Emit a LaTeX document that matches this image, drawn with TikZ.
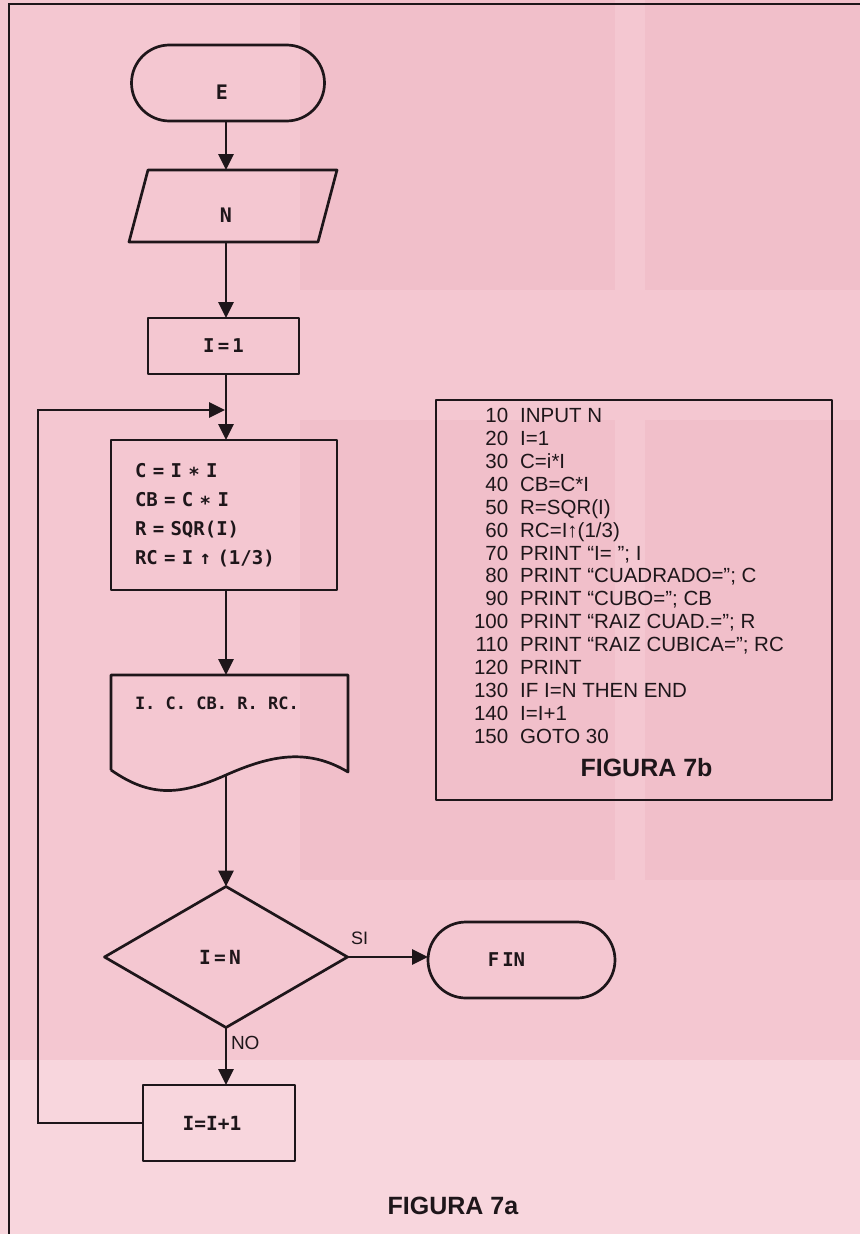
\documentclass[tikz,border=0pt]{standalone}
\usepackage{fontspec}
\setmainfont{Liberation Sans}
\newfontfamily\letterfont{DejaVu Sans Mono Bold}
\usetikzlibrary{arrows.meta,shapes.geometric,shapes.misc,calc}
\definecolor{paper}{RGB}{244,199,209}
\definecolor{paperdark}{RGB}{241,191,202}
\definecolor{paperlight}{RGB}{248,214,221}
\definecolor{ink}{RGB}{30,22,26}
\begin{document}
\begin{tikzpicture}[x=1pt,y=-1pt,
  every node/.style={inner sep=0pt,outer sep=0pt,text=ink},
  shapeline/.style={draw=ink,line width=2.7pt,line join=round},
  termbox/.style={shapeline,rounded rectangle,minimum width=193pt,minimum height=76pt,font=\letterfont\fontsize{20}{22}\selectfont},
  procbox/.style={shapeline,rectangle,font=\letterfont\fontsize{19}{21}\selectfont},
  decbox/.style={shapeline,diamond,minimum width=243pt,minimum height=141pt,font=\letterfont\fontsize{19.5}{21}\selectfont},
  plainbox/.style={rectangle,font=\letterfont\fontsize{20}{22}\selectfont},
  conn/.style={draw=ink,line width=2.7pt,-{Triangle[length=16pt,width=15pt]}},
  flowlabel/.style={font=\fontsize{18}{20}\selectfont,anchor=west},
  figtitle/.style={font=\bfseries\fontsize{25}{28}\selectfont},
]
\useasboundingbox (0,0) rectangle (860,1234);
% paper
\fill[paper] (0,0) rectangle (860,1234);
\fill[paperdark] (300,0) rectangle (615,290);
\fill[paperdark] (645,0) rectangle (860,290);
\fill[paperdark] (300,420) rectangle (615,880);
\fill[paperdark] (645,420) rectangle (860,880);
\fill[paperlight] (0,1060) rectangle (860,1234);
% frame
\draw[ink,line width=2.7pt] (9,1234) -- (9,4) -- (860,4);

% ---------- flowchart nodes ----------
\coordinate (spine) at (226,0);
\node[termbox,text height=32pt,text depth=0pt] (start) at (228,83) {E\kern12pt};
\node[plainbox,minimum width=170pt,minimum height=72pt,text height=32pt,text depth=0pt] (inp) at (226,206) {N};
\draw[shapeline] ($(inp.north)+(-78,0)$) -- ($(inp.north)+(111,0)$) -- ($(inp.south)+(92,0)$) -- ($(inp.south)+(-97,0)$) -- cycle;
\node[procbox,minimum width=151pt,minimum height=56pt] (init) at (223.5,346) {I\,=\,1};
\node[procbox,minimum width=226pt,minimum height=150pt,align=left,text width=178pt,font=\letterfont\fontsize{19}{29}\selectfont] (comp) at (224,515)
  {C = I ∗ I\\CB = C ∗ I\\R = SQR(I)\\RC = I ↑ (1/3)};
\node[plainbox,minimum width=237pt,minimum height=95pt] (outp) at (229.5,722.5) {};
\node[plainbox,anchor=west,font=\letterfont\fontsize{17}{20}\selectfont] (outptext) at ($(outp.north west)+(24,28)$) {I. C. CB. R. RC.};
\coordinate (wave) at (226,775);
\draw[shapeline] (outp.south west) -- (outp.north west) -- (outp.north east) -- ($(outp.south east)+(0,2)$)
  .. controls +(-40,-24) and +(45,-20) .. (wave)
  .. controls +(-45,20) and +(40,28) .. (outp.south west);
\node[decbox] (dec) at (226,957) {I\,=\,N\kern12pt};
\node[termbox,minimum width=187pt,font=\letterfont\fontsize{19}{21}\selectfont] (stop) at (521.5,960) {F\kern3ptIN\kern30pt};
\node[procbox,minimum width=152pt,minimum height=76pt,font=\letterfont\fontsize{19.5}{21}\selectfont] (inc) at (219,1123) {I=I+1\kern14pt};
\node[flowlabel] (si) at (351,938) {SI};
\node[flowlabel,font=\fontsize{19}{20}\selectfont] (no) at (231,1043) {NO};
\coordinate (loopx) at (38,760);
\coordinate (join) at (225,410);

% ---------- connectors ----------
\draw[conn] (start.south -| spine) -- (inp.north -| spine);
\draw[conn] (inp.south) -- (init.north -| inp.south);
\draw[conn] (init.south -| spine) -- (comp.north -| spine);
\draw[conn] (comp.south -| spine) -- (outp.north -| spine);
\draw[conn] (wave) -- (dec.north);
\draw[conn] (dec.east) -- (dec.east -| stop.west);
\draw[conn] (dec.south) -- (inc.north -| dec.south);
\draw[conn] (inc.west) -| (loopx) |- (join);

\node[figtitle] (fig7a) at (453,1206) {FIGURA 7a};

% ---------- program listing ----------
\node[shapeline,minimum width=396pt,minimum height=400pt] (prog) at (634,600) {};
\node[anchor=north west,font=\fontsize{20.5}{22.9}\selectfont] (listing) at (474,406.6) {%
\begin{tabular}{@{}r@{\hspace{12pt}}l@{}}
10 & INPUT N\\
20 & I=1\\
30 & C=i*I\\
40 & CB=C*I\\
50 & R=SQR(I)\\
60 & RC=I↑(1/3)\\
70 & PRINT “I= ”; I\\
80 & PRINT “CUADRADO=”; C\\
90 & PRINT “CUBO=”; CB\\
100 & PRINT “RAIZ CUAD.=”; R\\
110 & PRINT “RAIZ CUBICA=”; RC\\
120 & PRINT\\
130 & IF I=N THEN END\\
140 & I=I+1\\
150 & GOTO 30
\end{tabular}};
\node[figtitle] (fig7b) at (646.5,768) {FIGURA 7b};
\end{tikzpicture}
\end{document}
